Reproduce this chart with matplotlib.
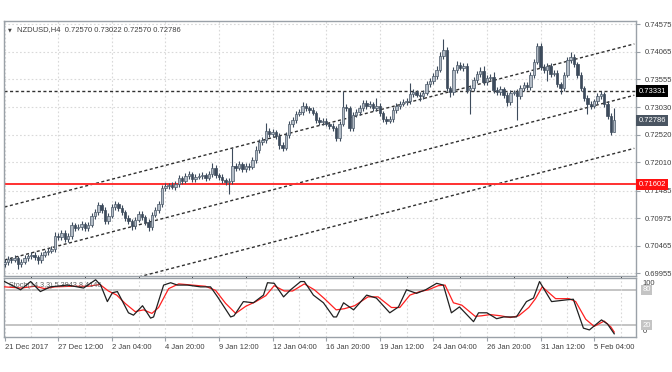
import matplotlib
matplotlib.use("Agg")
import matplotlib.pyplot as plt
import matplotlib.transforms as mtransforms

plt.rcParams["font.family"] = ["Liberation Sans", "DejaVu Sans"]

# ---- data ----
title_text = "NZDUSD,H4  0.72570 0.73022 0.72570 0.72786"
stoch_text = "Stoch(14,3,3) 5.3943 8.4146"

first_open = 0.70120
closes = [
    0.70160, 0.70216, 0.70197, 0.70234, 0.70123, 0.70160, 0.70234, 0.70271, 0.70290, 0.70253,
    0.70197, 0.70290, 0.70346, 0.70364, 0.70401, 0.70642, 0.70624, 0.70698, 0.70587, 0.70642,
    0.70846, 0.70791, 0.70809, 0.70865, 0.70791, 0.70846, 0.71013, 0.71088, 0.71217, 0.71125,
    0.70921, 0.71013, 0.71180, 0.71236, 0.71162, 0.71088, 0.70976, 0.70921, 0.70828, 0.70939,
    0.71051, 0.70995, 0.70902, 0.70809, 0.71032, 0.71125, 0.71236, 0.71533, 0.71570, 0.71588,
    0.71551, 0.71607, 0.71718, 0.71663, 0.71755, 0.71793, 0.71700, 0.71737, 0.71755, 0.71774,
    0.71718, 0.71793, 0.71904, 0.71774, 0.71737, 0.71681, 0.71644, 0.71663, 0.71941, 0.71904,
    0.71978, 0.71885, 0.71941, 0.71922, 0.72052, 0.72238, 0.72386, 0.72423, 0.72590, 0.72535,
    0.72572, 0.72497, 0.72330, 0.72275, 0.72516, 0.72720, 0.72794, 0.72906, 0.72943, 0.73054,
    0.73017, 0.72980, 0.72924, 0.72794, 0.72757, 0.72776, 0.72720, 0.72683, 0.72646, 0.72460,
    0.72720, 0.73035, 0.73017, 0.72646, 0.72887, 0.72943, 0.73017, 0.73110, 0.73054, 0.73091,
    0.73017, 0.73054, 0.72924, 0.72813, 0.72776, 0.72813, 0.72980, 0.73054, 0.73091, 0.73128,
    0.73147, 0.73277, 0.73314, 0.73258, 0.73239, 0.73295, 0.73462, 0.73518, 0.73610, 0.73722,
    0.73981, 0.74093, 0.73388, 0.73314, 0.73722, 0.73814, 0.73759, 0.73796, 0.73351, 0.73388,
    0.73536, 0.73648, 0.73703, 0.73499, 0.73573, 0.73592, 0.73351, 0.73314, 0.73369, 0.73258,
    0.73128, 0.73295, 0.73314, 0.73239, 0.73388, 0.73443, 0.73406, 0.73629, 0.73870, 0.74167,
    0.73777, 0.73722, 0.73796, 0.73648, 0.73666, 0.73462, 0.73388, 0.73629, 0.73907, 0.73963,
    0.73833, 0.73629, 0.73388, 0.73202, 0.73091, 0.73054, 0.73147, 0.73239, 0.73277, 0.73091,
    0.72868, 0.72570, 0.72786,
]
# wick lengths beyond the body, in pips
wick_up = [
    5, 6, 4, 5, 4, 6, 5, 4, 5, 6, 4, 5, 4, 5, 6, 7, 5, 6, 5, 6,
    5, 4, 6, 5, 4, 6, 5, 6, 6, 4, 5, 6, 5, 6, 4, 5, 4, 5, 4, 5,
    6, 5, 4, 5, 6, 5, 6, 6, 5, 4, 5, 6, 5, 4, 6, 5, 4, 5, 6, 5,
    4, 5, 9, 5, 4, 5, 4, 5, 33, 5, 6, 4, 5, 6, 5, 8, 6, 5, 15, 6,
    5, 4, 5, 6, 5, 6, 5, 6, 5, 8, 5, 4, 5, 4, 5, 6, 5, 4, 5, 4,
    6, 30, 5, 4, 6, 5, 6, 5, 6, 5, 4, 14, 5, 4, 5, 6, 5, 6, 5, 6,
    5, 20, 5, 4, 6, 5, 6, 5, 6, 7, 8, 20, 5, 4, 6, 7, 5, 6, 5, 6,
    6, 5, 7, 10, 5, 6, 10, 6, 5, 4, 6, 5, 4, 6, 5, 6, 5, 6, 5, 6,
    6, 5, 6, 5, 6, 5, 4, 6, 5, 10, 5, 4, 5, 4, 6, 5, 4, 6, 5, 4,
    5, 6, 24,
]
wick_dn = [
    6, 5, 5, 4, 10, 5, 4, 6, 5, 5, 8, 5, 4, 5, 4, 5, 6, 5, 6, 5,
    5, 6, 4, 5, 6, 5, 4, 5, 5, 6, 6, 5, 4, 5, 6, 5, 6, 5, 8, 5,
    4, 5, 6, 8, 5, 4, 5, 5, 6, 5, 4, 5, 6, 5, 4, 5, 6, 5, 4, 5,
    5, 4, 5, 6, 5, 6, 5, 22, 5, 6, 4, 5, 6, 5, 4, 5, 6, 5, 5, 6,
    5, 6, 8, 5, 4, 5, 6, 5, 4, 5, 6, 5, 4, 5, 6, 5, 4, 5, 5, 6,
    5, 4, 5, 6, 5, 4, 5, 6, 5, 4, 5, 6, 5, 6, 5, 4, 5, 6, 5, 4,
    5, 6, 5, 4, 10, 5, 4, 5, 6, 5, 4, 5, 5, 10, 6, 5, 4, 5, 6, 44,
    5, 6, 5, 6, 5, 4, 5, 6, 5, 6, 8, 5, 4, 44, 5, 6, 5, 6, 5, 4,
    5, 6, 20, 5, 4, 5, 12, 5, 4, 5, 6, 5, 6, 5, 18, 5, 4, 5, 6, 5,
    6, 5, 0,
]

date_labels = ["21 Dec 2017", "27 Dec 12:00", "2 Jan 04:00", "4 Jan 20:00", "9 Jan 12:00",
               "12 Jan 04:00", "16 Jan 20:00", "19 Jan 12:00", "24 Jan 04:00",
               "26 Jan 20:00", "31 Jan 12:00", "5 Feb 04:00"]
date_label_bars = [0, 16, 32, 48, 64, 80, 96, 112, 128, 144, 160, 176]
grid_bars = list(range(0, 189, 8))

price_ticks = [0.74575, 0.74065, 0.73555, 0.73030, 0.72520, 0.72010,
               0.71485, 0.70975, 0.70465, 0.69955]
price_labels = ["0.74575", "0.74065", "0.73555", "0.73030", "0.72520", "0.72010",
                "0.71485", "0.70975", "0.70465", "0.69955"]

resistance = 0.73331
support = 0.71602
last_price = 0.72786

# channel lines: (bar, price) end points
upper_bars, upper_prices = [0, 188], [0.71180, 0.74206]
middle_bars, middle_prices = [0, 188], [0.70199, 0.73254]
lower_bars, lower_prices = [0, 188], [0.69238, 0.72269]

# stochastic %K (black) and %D (red)
k_bars = [0, 4.8, 7.8, 10.7, 13.7, 18.8, 23.6, 27.2, 28.7, 30.7, 32.2, 33.7, 37, 38.5, 41.2,
          43.6, 44.5, 47.5, 49.6, 51.6, 54.6, 58.5, 61.5, 63.6, 67.5, 68.5, 71.3, 74.3, 77.3,
          78.5, 80.5, 83.3, 85.4, 88.4, 89.5, 92.2, 95.2, 98.2, 99.1, 101.2, 104.2, 108.1,
          111, 115, 117.6, 120, 123, 125.7, 129, 131, 133.4, 135.8, 140, 141.5, 144, 146.9,
          149, 152.8, 155.8, 157.9, 159.7, 161.8, 163.3, 167.8, 169.8, 172.8, 174.6, 178.2,
          180, 182]
k_vals = [94, 80, 94, 77, 85, 88, 83, 97, 88, 60, 75, 77, 41, 37, 53,
          32, 34, 88, 92, 88, 88, 85, 85, 68, 34, 36, 60, 58, 71,
          92, 91, 68, 80, 94, 94, 71, 58, 34, 34, 58, 46, 71,
          66, 41, 51, 80, 74, 80, 91, 88, 41, 51, 26, 41, 41, 31,
          34, 34, 60, 66, 94, 74, 60, 63, 64, 15, 12, 29,
          22, 5.4]
d_bars = [0, 5, 9, 12, 15, 20, 25, 28.5, 31, 33.5, 36, 39, 41.5, 44, 46, 49, 52, 56, 60,
          63, 66, 69, 72, 75, 78, 80.5, 83.5, 86, 89.5, 92.5, 95.5, 99, 101.5, 104.5, 108.5,
          111.5, 115.5, 118, 121, 124, 126.5, 129.5, 131.5, 134, 136.5, 140.5, 142.5, 145,
          148, 151, 153.5, 156.5, 158.5, 160.5, 162.5, 164.5, 168.5, 170.5, 173.5, 176, 179,
          181, 182]
d_vals = [85, 83, 86, 82, 85, 86, 86, 89, 78, 71, 57, 43, 46, 40, 50, 82, 90, 88, 86,
          79, 57, 40, 52, 60, 70, 87, 78, 78, 90, 80, 65, 46, 48, 53, 68,
          68, 50, 50, 71, 77, 80, 87, 88, 58, 54, 35, 36, 38,
          36, 33, 36, 50, 65, 85, 75, 65, 65, 60, 30, 18, 27,
          17, 8.4]

# ---- build candles ----
opens = [first_open] + closes[:-1]
bars = list(range(len(closes)))
highs = [max(o, c) + u * 0.0001 for o, c, u in zip(opens, closes, wick_up)]
lows = [min(o, c) - d * 0.0001 for o, c, d in zip(opens, closes, wick_dn)]

bull_fill, bull_edge = "#b3bcc6", "#4a5868"
bear_fill = "#3d4b5c"
frame_c = "#9aa1a8"
text_c = "#404040"
grid_kw = dict(color="#d9d9d9", linestyle=(0, (1.5, 2)), linewidth=0.8)

fig = plt.figure(figsize=(6.72, 3.72), dpi=100)
W, H = 672, 372
ax = fig.add_axes([4 / W, (H - 276) / H, 632 / W, 255 / H])
ax2 = fig.add_axes([4 / W, (H - 337) / H, 632 / W, 59 / H], sharex=ax)

# candles
wick_cols = [bear_fill] * len(bars)
ax.vlines(bars, lows, highs, colors=wick_cols, linewidth=0.8, zorder=3)
for i in bars:
    o, c = opens[i], closes[i]
    bottom = min(o, c)
    height = max(abs(c - o), 0.00003)
    if c >= o:
        ax.bar(i, height, bottom=bottom, width=0.72, color=bull_fill,
               edgecolor=bull_edge, linewidth=0.5, zorder=4)
    else:
        ax.bar(i, height, bottom=bottom, width=0.72, color=bear_fill,
               edgecolor=bear_fill, linewidth=0.5, zorder=4)

# lines
dash = (0, (2.2, 1.8))
ax.plot(upper_bars, upper_prices, color="#303030", linestyle=dash, linewidth=1.0, zorder=2)
ax.plot(middle_bars, middle_prices, color="#303030", linestyle=dash, linewidth=1.0, zorder=2)
ax.plot(lower_bars, lower_prices, color="#303030", linestyle=dash, linewidth=1.0, zorder=2)
ax.axhline(resistance, color="#303030", linestyle=dash, linewidth=1.0, zorder=2)
ax.axhline(support, color="#ff3030", linewidth=1.4, zorder=2)

ax.set_xlim(-0.15, 188.5)
ax.set_ylim(0.69901, 0.74631)
ax.set_xticks(grid_bars)
ax.tick_params(axis="x", length=0, labelbottom=False)
ax.yaxis.tick_right()
ax.set_yticks(price_ticks)
ax.set_yticklabels(price_labels)
ax.tick_params(axis="y", length=3, width=0.8, pad=3, labelsize=5.5,
               colors=frame_c, labelcolor=text_c)
ax.grid(True, **grid_kw)
for s in ax.spines.values():
    s.set_color(frame_c)
    s.set_linewidth(1.0)

# price boxes on the right axis
trans = mtransforms.blended_transform_factory(ax.transAxes, ax.transData)
for val, txt, fc in [(resistance, "0.73331", "#000000"),
                     (last_price, "0.72786", "#4a5562"),
                     (support, "0.71602", "#ff1010")]:
    ax.text(1.004, val, txt, transform=trans, ha="left", va="center", fontsize=5.5,
            color="white", zorder=10, clip_on=False,
            bbox=dict(boxstyle="square,pad=0.28", fc=fc, ec="none"))

ax.text(0.006, 0.975, "\u25bc", transform=ax.transAxes, fontsize=3.5, color=text_c,
        ha="left", va="top", family="DejaVu Sans")
ax.text(0.021, 0.98, title_text, transform=ax.transAxes, fontsize=5.5, color=text_c,
        ha="left", va="top")

# stochastic window
ax2.plot(d_bars, d_vals, color="#ff2020", linewidth=0.9, zorder=3)
ax2.plot(k_bars, k_vals, color="#202020", linewidth=0.9, zorder=4)
ax2.axhline(80, color="#c4c4c4", linewidth=1.4, zorder=1)
ax2.axhline(20, color="#c4c4c4", linewidth=1.4, zorder=1)
ax2.set_ylim(0, 100)
ax2.set_yticks([])
ax2.set_xticks(date_label_bars)
ax2.set_xticklabels(date_labels, ha="left")
ax2.set_xticks(grid_bars, minor=True)
ax2.tick_params(axis="x", which="major", length=3, width=0.8, pad=2, labelsize=5.5,
                colors=frame_c, labelcolor=text_c)
ax2.tick_params(axis="x", which="minor", length=0)
ax2.grid(True, which="both", axis="x", **grid_kw)
for lbl in ax2.get_xticklabels():
    lbl.set_x(lbl.get_position()[0])
for s in ax2.spines.values():
    s.set_color(frame_c)
    s.set_linewidth(1.0)

trans2 = mtransforms.blended_transform_factory(ax2.transAxes, ax2.transData)
ax2.text(1.01, 91, "100", transform=trans2, ha="left", va="center", fontsize=5.5, color=text_c)
ax2.text(1.01, 9, "0", transform=trans2, ha="left", va="center", fontsize=5.5, color=text_c)
for v in (80, 20):
    ax2.text(1.01, v, str(v), transform=trans2, ha="left", va="center", fontsize=5.5,
             color="white", clip_on=False,
             bbox=dict(boxstyle="square,pad=0.2", fc="#c4c4c4", ec="none"))
ax2.text(0.008, 0.93, stoch_text, transform=ax2.transAxes, fontsize=5.2, color="#606060",
         ha="left", va="top")

fig.savefig("out.png", dpi=100, facecolor="white")
